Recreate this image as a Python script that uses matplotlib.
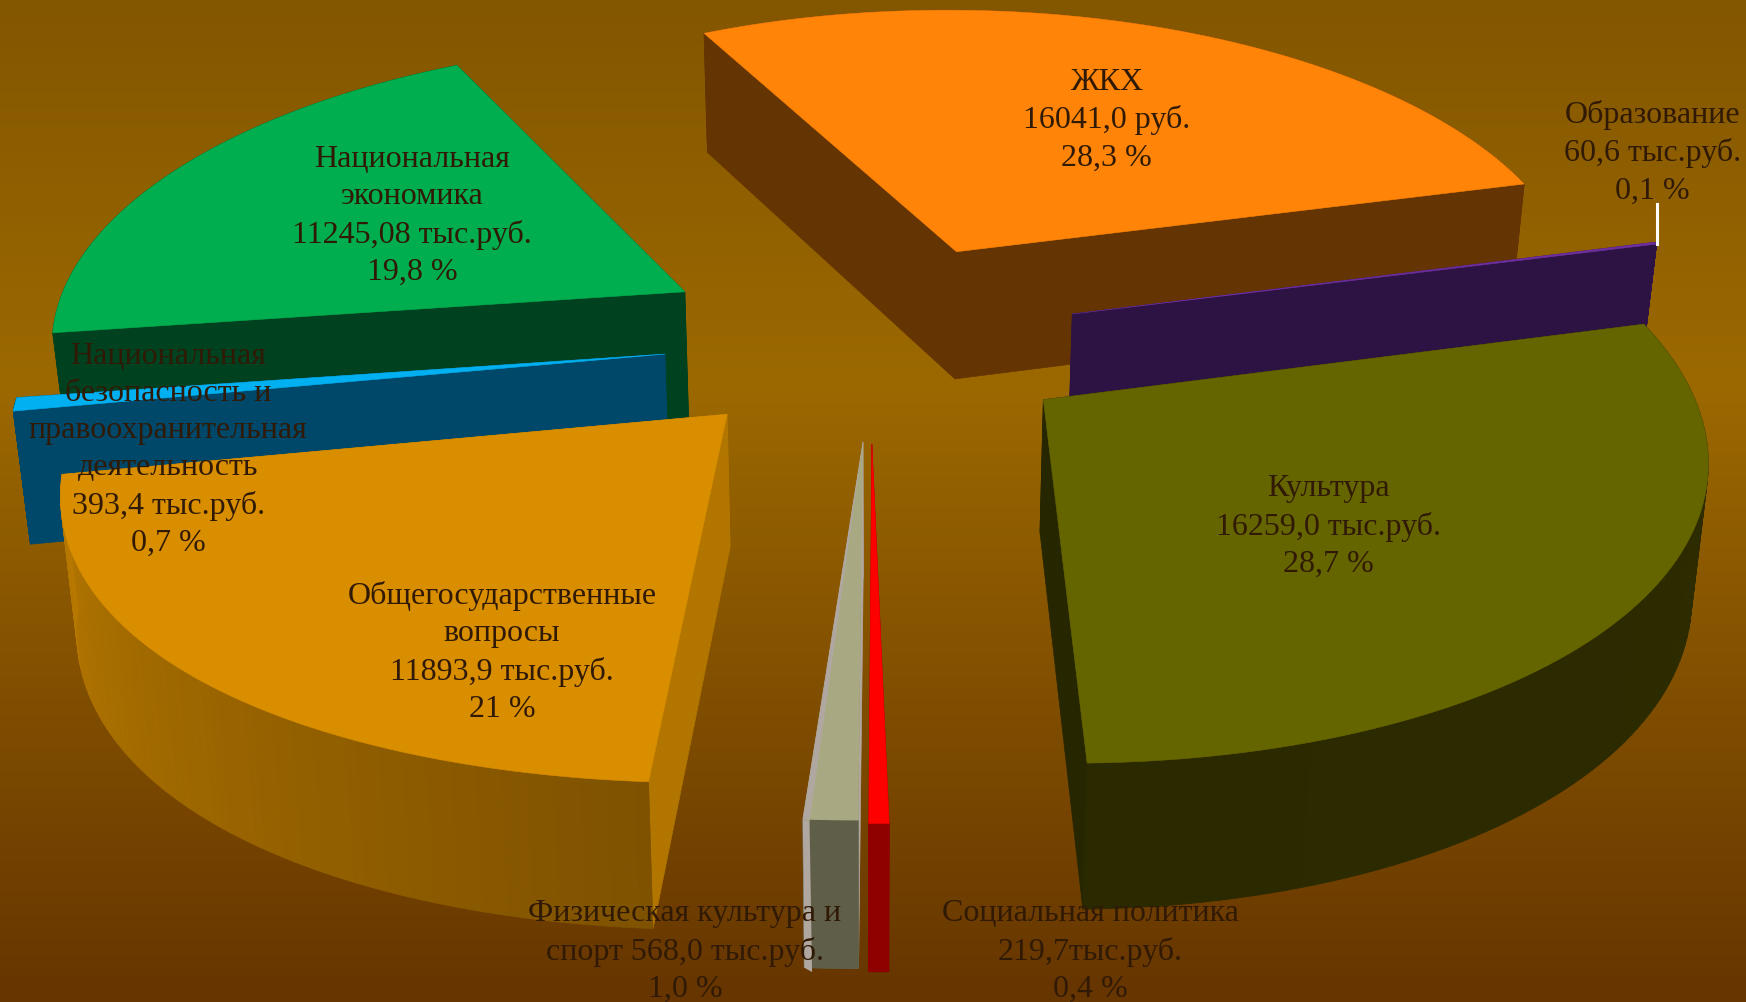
#!/usr/bin/env python3
"""Exploded perspective pie of budget spending, drawn as plain polygons."""

import numpy as np
import matplotlib

matplotlib.use("Agg")
import matplotlib.pyplot as plt
from matplotlib.colors import to_rgb

plt.rcParams["font.family"] = ["Liberation Serif", "DejaVu Serif"]

# clockwise from the first slice
names = ["ЖКХ", "Образование", "Культура", "Социальная политика", "Физическая культура",
         "Общегосударственные вопросы", "Нац. безопасность", "Национальная экономика"]
values = [16041.0, 60.6, 16259.0, 219.7, 568.0, 11893.9, 393.4, 11245.08]

labels = [
    "ЖКХ\n16041,0 руб.\n28,3 %",
    "Образование\n60,6 тыс.руб.\n0,1 %",
    "Культура\n16259,0 тыс.руб.\n28,7 %",
    "Социальная политика\n219,7тыс.руб.\n0,4 %",
    "Физическая культура и\nспорт 568,0 тыс.руб.\n1,0 %",
    "Общегосударственные\nвопросы\n11893,9 тыс.руб.\n21 %",
    "Национальная\nбезопасность и\nправоохранительная\nдеятельность\n393,4 тыс.руб.\n0,7 %",
    "Национальная\nэкономика\n11245,08 тыс.руб.\n19,8 %",
]
label_pos = [(994, 108), (1484, 137), (1193, 473), (979, 855), (615, 855),
             (451, 586), (151, 404), (370, 194)]

# where each exploded slice has its tip, in the picture
tips = [(859, 227), (963, 283), (937, 360), (783, 400), (775, 398), (653, 373), (597, 319), (615, 263)]
# horizontal spread of each slice's rim: scale over (depth + cos angle)
spread_a = [3808, 2416, 3570, 2371, 2500, 2650, 2347, 3876]
spread_d = [6.93, 4.16, 6.1, 4.16, 4.16, 4.57, 4.16, 6.94]

top_colors = ["#ff8407", "#7030a0", "#656500", "#ff0000", "#a8a882", "#d98e00", "#00b0f0", "#00ad4f"]
side_colors = ["#653403", "#2c1344", "#262600", "#8f0000", "#b0a8a0", "#b17500", "#00486a", "#00421f"]
rim_left = ["#653403", "#2c1344", "#2a2900", "#8f0000", "#5f5f49", "#b87900", "#00486a", "#00421f"]
rim_right = ["#653403", "#2c1344", "#2e2c00", "#8f0000", "#5f5f49", "#7f5200", "#00486a", "#00421f"]
draw_order = [0, 1, 7, 6, 5, 4, 3, 2]

bg_pos = [0.0, 0.38, 1.0]
bg_colors = ["#835600", "#9c6900", "#663500"]

START_DEG = -26.74
HORIZON = -1659.0
DEPTH_B = 14506.0
VP_X = 785.0
W, H = 1568, 901


def project(i, phi):
    tip = tips[i]
    d0 = DEPTH_B / (tip[1] - HORIZON)
    d = d0 + np.cos(phi)
    y = HORIZON + DEPTH_B / d
    x = VP_X + (tip[0] - VP_X) * d0 / d + spread_a[i] * np.sin(phi) / (spread_d[i] + np.cos(phi))
    return x, y


def drop(x, y):
    # bottom edge of the cake under a point of the top face
    return VP_X + (x - VP_X) * 0.98, y + 107 + (y - 31) * 0.037


def mix(c1, c2, t):
    c1, c2 = np.array(to_rgb(c1)), np.array(to_rgb(c2))
    return tuple(c1 + (c2 - c1) * t)


fig = plt.figure(figsize=(17.46, 10.03), dpi=100)
ax = fig.add_axes([0, 0, 1, 1])
ax.set_xlim(0, W)
ax.set_ylim(H, 0)
ax.axis("off")

rows = np.linspace(0, 1, 256)
bg = np.array([np.interp(rows, bg_pos, [to_rgb(c)[i] for c in bg_colors]) for i in range(3)]).T
ax.imshow(bg[:, None, :], extent=(0, W, H, 0), aspect="auto", zorder=0)

shares = np.array(values) / sum(values)
edges = np.radians(START_DEG + 360 * np.concatenate([[0], np.cumsum(shares)]))

z = 1
for i in draw_order:
    tip = tips[i]
    phi = np.linspace(edges[i], edges[i + 1], 80)
    x, y = project(i, phi)
    xb, yb = drop(x, y)
    tb = drop(*tip)

    # radial walls
    for k in (0, -1):
        ax.fill([tip[0], x[k], xb[k], tb[0]], [tip[1], y[k], yb[k], tb[1]],
                color=side_colors[i], lw=0.5, zorder=z)
    z += 1
    # outer wall, in strips so that it can shade
    for k in range(len(phi) - 1):
        c = mix(rim_right[i], rim_left[i], k / (len(phi) - 2))
        ax.fill([x[k], x[k + 1], xb[k + 1], xb[k]], [y[k], y[k + 1], yb[k + 1], yb[k]],
                color=c, lw=0.5, zorder=z)
    z += 1
    if names[i].startswith("Физическая"):
        # the lit side shows as a sliver along the left edge
        ax.fill([x[-1], xb[-1], xb[-1] + 7, x[-1] + 6], [y[-1], yb[-1], yb[-1] + 4, y[-1] + 2],
                color=side_colors[i], lw=0, zorder=z)
        ax.fill(np.r_[tip[0], x[-1], x[-1] + 6], np.r_[tip[1], y[-1], y[-1] + 2],
                color=side_colors[i], lw=0, zorder=z)
        z += 1
        ax.fill(np.r_[tip[0], x[:-1], x[-1] + 6], np.r_[tip[1], y[:-1], y[-1] + 2],
                color=top_colors[i], lw=0, zorder=z)
    else:
        ax.fill(np.r_[tip[0], x], np.r_[tip[1], y], color=top_colors[i], lw=0.4, zorder=z)
    z += 1

# leader line of the smallest slice
lx, ly = project(1, edges[2])
ax.plot([lx, lx], [ly, ly - 36], color="white", lw=2.2, zorder=z)

for text, (px, py) in zip(labels, label_pos):
    ax.text(px, py, text, ha="center", va="center", ma="center", fontsize=23, linespacing=1.37,
            color="#301a06", zorder=z + 1)

fig.savefig("out.png", dpi=100)
plt.close(fig)
